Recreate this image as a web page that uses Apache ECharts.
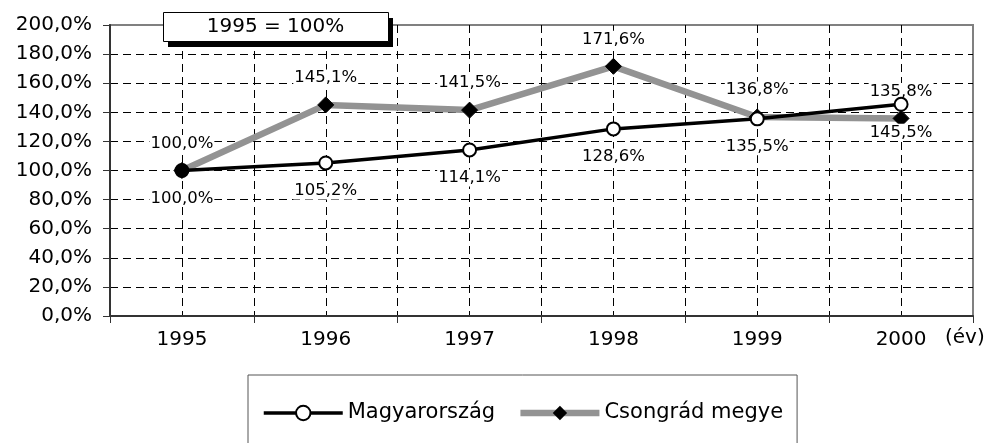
<!DOCTYPE html>
<html>
<head>
<meta charset="utf-8">
<script src="https://cdn.jsdelivr.net/npm/echarts@6/dist/echarts.min.js"></script>
<style>html,body{margin:0;padding:0;background:#fff}#c{width:988px;height:443px}</style>
</head>
<body>
<div id="c"></div>
<script>
var years = ['1995', '1996', '1997', '1998', '1999', '2000'];
var magyarorszag = [100, 105.2, 114.1, 128.6, 135.5, 145.5];
var csongrad = [100, 145.1, 141.5, 171.6, 136.8, 135.8];
var seriesNames = ['Magyarország', 'Csongrád megye'];
var titleText = '1995 = 100%';
var xUnit = '(év)';

var FONT = 'DejaVu Sans';
var GREY = '#939393';
function pct(v) { return v.toFixed(1).replace('.', ',') + '%'; }

var chart = echarts.init(document.getElementById('c'), null, {renderer: 'canvas'});
chart.setOption({
  animation: false,
  backgroundColor: '#fff',
  legend: {
    data: [
      {name: seriesNames[0], itemStyle: {color: '#fff', borderColor: '#000', borderWidth: 2},
       lineStyle: {color: '#000', width: 3.5}},
      {name: seriesNames[1], itemStyle: {color: '#000', borderColor: '#000'},
       lineStyle: {color: GREY, width: 6.5}}
    ],
    left: 248, top: 375,
    padding: [25, 14, 25, 14],
    borderColor: '#555', borderWidth: 1,
    itemWidth: 79, itemHeight: 18, itemGap: 22,
    textStyle: {fontFamily: FONT, fontSize: 21, color: '#000', lineHeight: 26}
  },
  grid: {
    left: 110, right: 15, top: 25, bottom: 127,
    show: true, borderColor: '#808080', borderWidth: 2, backgroundColor: 'transparent'
  },
  graphic: [
    {type: 'rect', left: 168, top: 18, z: 100, shape: {width: 225, height: 29}, style: {fill: '#000'}},
    {type: 'rect', left: 163, top: 12, z: 101, shape: {width: 225, height: 29}, style: {fill: '#fff', stroke: '#000', lineWidth: 1}},
    {type: 'text', x: 275.5, y: 27, z: 102,
     style: {text: titleText, fontFamily: FONT, fontSize: 20, fill: '#000', align: 'center', verticalAlign: 'middle'}},
    {type: 'text', left: 945, top: 328,
     style: {text: xUnit, fontFamily: FONT, fontSize: 20, fill: '#000'}}
  ],
  xAxis: [{
    type: 'category', data: years, boundaryGap: true, position: 'bottom',
    axisLine: {onZero: false, lineStyle: {color: '#333', width: 2}},
    axisTick: {show: true, length: 7, lineStyle: {color: '#333', width: 1}},
    axisLabel: {fontFamily: FONT, fontSize: 20, color: '#000', margin: 14},
    splitLine: {show: false}
  }, {
    type: 'value', min: -0.5, max: 5.5, interval: 0.5, position: 'top',
    axisLine: {show: false, onZero: false}, axisTick: {show: false}, axisLabel: {show: false},
    splitLine: {show: true, showMinLine: false, showMaxLine: false,
      lineStyle: {color: '#000', width: 1, type: [8, 5]}}
  }],
  yAxis: {
    type: 'value', min: 0, max: 200, interval: 20,
    axisLine: {show: true, onZero: false, lineStyle: {color: '#333', width: 2}},
    axisTick: {show: true, length: 7, lineStyle: {color: '#333', width: 1}},
    axisLabel: {fontFamily: FONT, fontSize: 20, color: '#000', margin: 18, formatter: function (v) { return pct(v); }},
    splitLine: {show: true, showMaxLine: false, lineStyle: {color: '#000', width: 1, type: [8, 5]}}
  },
  series: [{
    name: seriesNames[1], type: 'line', xAxisIndex: 0, data: csongrad, z: 2,
    symbol: 'diamond', symbolSize: 16,
    lineStyle: {color: GREY, width: 6.5},
    itemStyle: {color: '#000', borderColor: '#000'},
    label: {show: true, position: 'top', distance: 10, formatter: function (p) { return pct(p.value); },
      fontFamily: FONT, fontSize: 16.5, color: '#000', backgroundColor: '#fff', padding: [0, 1]}
  }, {
    name: seriesNames[0], type: 'line', xAxisIndex: 0, data: magyarorszag, z: 3,
    symbol: 'circle', symbolSize: 13,
    lineStyle: {color: '#000', width: 3.5},
    itemStyle: {
      color: function (p) { return p.dataIndex === 0 ? '#000' : '#fff'; },
      borderColor: '#000', borderWidth: 2
    },
    label: {show: true, position: 'bottom', distance: 12, formatter: function (p) { return pct(p.value); },
      fontFamily: FONT, fontSize: 16.5, color: '#000', backgroundColor: '#fff', padding: [0, 1]}
  }]
});
</script>
</body>
</html>
